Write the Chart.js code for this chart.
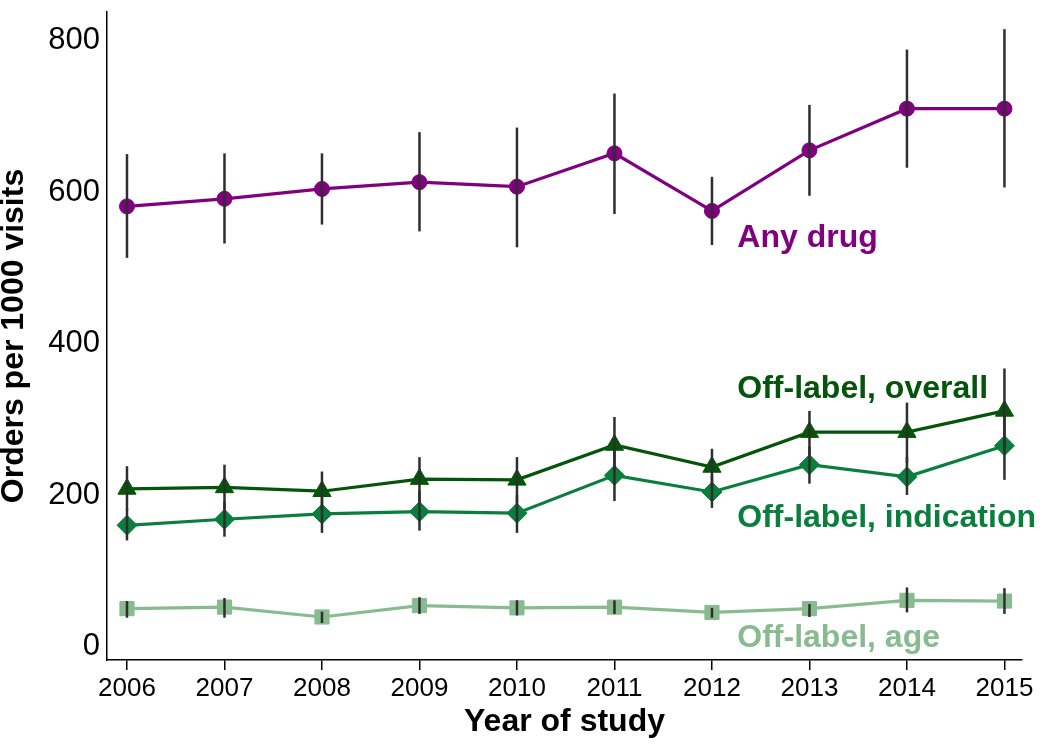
<!DOCTYPE html>
<html><head><meta charset="utf-8">
<script src="https://cdn.jsdelivr.net/npm/chart.js@4/dist/chart.umd.min.js"></script>
<style>html,body{margin:0;padding:0;background:#fff}</style>
</head><body>
<canvas id="c" width="1050" height="756"></canvas>
<script>
const years = [2006, 2007, 2008, 2009, 2010, 2011, 2012, 2013, 2014, 2015];

const anyDrug   = [581, 591, 604, 613, 607, 651, 575, 655, 710, 710];
const anyDrugLo = [513, 532, 557, 548, 527, 571, 530, 595, 632, 606];
const anyDrugHi = [650, 651, 651, 679, 685, 730, 620, 715, 788, 815];

const offOverall   = [208, 210, 205, 221, 220, 266, 237, 283, 283, 311];
const offOverallLo = [180, 181, 180, 191, 189, 231, 211, 253, 242, 259];
const offOverallHi = [238, 240, 231, 250, 250, 303, 261, 311, 322, 367];

const offIndication   = [160, 168, 175, 178, 176, 226, 204, 240, 224, 265];
const offIndicationLo = [140, 145, 150, 153, 150, 192, 183, 215, 200, 220];
const offIndicationHi = [182, 191, 200, 206, 200, 264, 226, 264, 250, 310];

const offAge   = [50, 52, 39, 54, 51, 52, 45, 50, 61, 60];
const offAgeLo = [38, 38, 31, 43, 41, 43, 38, 39, 45, 43];
const offAgeHi = [60, 64, 46, 65, 61, 61, 51, 56, 78, 77];

const seriesNames = ['Any drug', 'Off-label, overall', 'Off-label, indication', 'Off-label, age'];
const yTicks = [0, 200, 400, 600, 800];

const FONT = '"Liberation Sans", Arial, Helvetica, sans-serif';
const COLORS = ['#800080', '#04550a', '#0a7e3c', '#88bb8f'];

const series = [
  {name: seriesNames[0], v: anyDrug, lo: anyDrugLo, hi: anyDrugHi, style: 'circle', r: 7.5, labelY: 528},
  {name: seriesNames[1], v: offOverall, lo: offOverallLo, hi: offOverallHi, style: 'triangle', r: 10.5, labelY: 328},
  {name: seriesNames[2], v: offIndication, lo: offIndicationLo, hi: offIndicationHi, style: 'rectRot', r: 10, labelY: 158},
  {name: seriesNames[3], v: offAge, lo: offAgeLo, hi: offAgeHi, style: 'rect', r: 10, labelY: 0}
];

const extras = {
  id: 'extras',
  afterDatasetsDraw(chart) {
    const {ctx, scales: {x, y}} = chart;
    ctx.save();
    ctx.strokeStyle = '#2e2e2e';
    ctx.lineWidth = 2.5;
    series.forEach(s => {
      s.lo.forEach((lo, i) => {
        const px = x.getPixelForValue(years[i]);
        ctx.beginPath();
        ctx.moveTo(px, y.getPixelForValue(lo));
        ctx.lineTo(px, y.getPixelForValue(s.hi[i]));
        ctx.stroke();
      });
    });
    ctx.font = 'bold 32px ' + FONT;
    ctx.textAlign = 'left';
    ctx.textBaseline = 'alphabetic';
    series.forEach((s, k) => {
      ctx.fillStyle = COLORS[k];
      ctx.fillText(s.name, x.getPixelForValue(2012.26), y.getPixelForValue(s.labelY));
    });
    ctx.restore();
  }
};

new Chart(document.getElementById('c'), {
  type: 'line',
  data: {
    datasets: series.map((s, k) => ({
      label: s.name,
      data: years.map((yr, i) => ({x: yr, y: s.v[i]})),
      borderColor: COLORS[k],
      backgroundColor: COLORS[k],
      pointBackgroundColor: COLORS[k],
      pointBorderColor: COLORS[k],
      pointBorderWidth: 1,
      pointStyle: s.style,
      pointRadius: s.r,
      borderWidth: 3.2,
      tension: 0,
      fill: false
    }))
  },
  options: {
    responsive: false,
    devicePixelRatio: 1,
    animation: false,
    layout: {padding: {top: 12, right: 28, left: 0, bottom: 0}},
    plugins: {legend: {display: false}, tooltip: {enabled: false}},
    scales: {
      x: {
        type: 'linear',
        min: 2005.795,
        max: 2015.18,
        bounds: 'data',
        afterBuildTicks: s => { s.ticks = years.map(v => ({value: v})); },
        afterFit: s => { s.height = 96; s.paddingLeft = 0; s.paddingRight = 0; },
        grid: {display: true, drawOnChartArea: false, drawTicks: true, tickLength: 10, color: '#000', lineWidth: 1.5},
        border: {display: true, color: '#000', width: 1.5},
        ticks: {
          padding: 3, color: '#000',
          font: {family: FONT, size: 26}, maxRotation: 0, autoSkip: false,
          callback: v => String(v)
        },
        title: {display: true, text: 'Year of study', color: '#000',
          font: {family: FONT, size: 32, weight: 'bold'}, padding: {top: 0, bottom: 15}}
      },
      y: {
        type: 'linear',
        min: -17.8,
        max: 837.6,
        bounds: 'data',
        afterBuildTicks: s => { s.ticks = yTicks.map(v => ({value: v})); },
        afterFit: s => { s.width = 107; s.paddingTop = 0; s.paddingBottom = 0; },
        grid: {display: false, drawTicks: false, tickLength: 0},
        border: {display: true, color: '#000', width: 1.5},
        ticks: {padding: 7, color: '#000', font: {family: FONT, size: 31}, callback: v => String(v)},
        title: {display: true, text: 'Orders per 1000 visits', color: '#000',
          font: {family: FONT, size: 32, weight: 'bold', lineHeight: 0.87}, padding: {top: 0, bottom: 0}}
      }
    }
  },
  plugins: [extras]
});
</script>
</body></html>
